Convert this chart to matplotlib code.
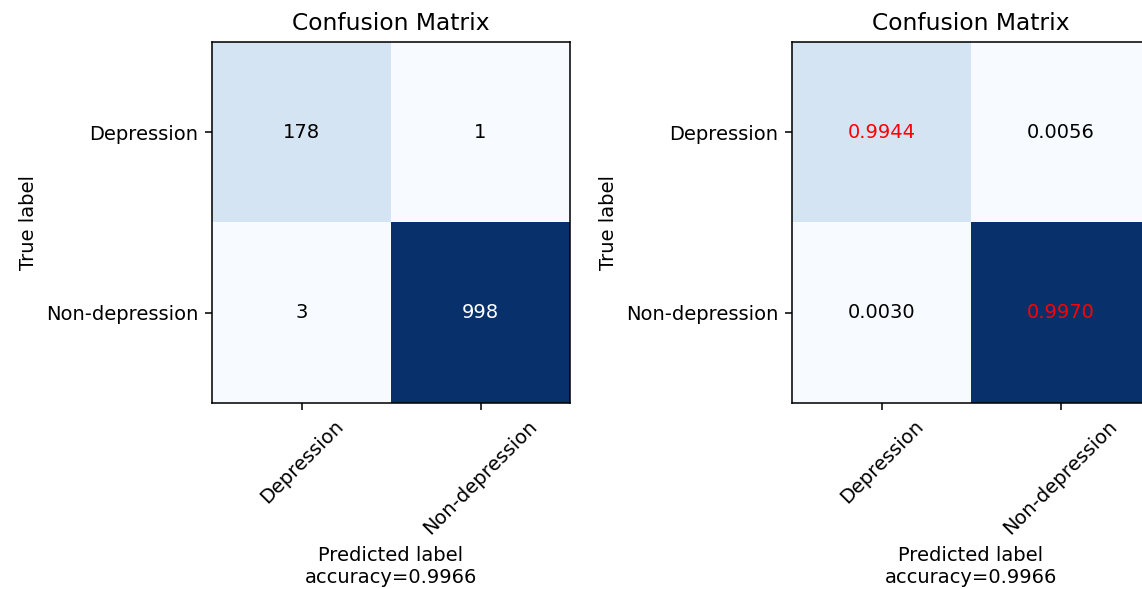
import numpy as np
import matplotlib
matplotlib.use("Agg")
import matplotlib.pyplot as plt

# Class names and raw confusion counts (rows: true, cols: predicted)
classes = ["Depression", "Non-depression"]
counts_row_depression = [178, 1]
counts_row_nondepression = [3, 998]

cm = np.array([counts_row_depression, counts_row_nondepression])
cm_norm = cm / cm.sum(axis=1, keepdims=True)
accuracy = np.trace(cm) / cm.sum()

DPI = 140
fig = plt.figure(figsize=(1142 / DPI, 589 / DPI), dpi=DPI)

W, H = 1142, 589
ax_left = fig.add_axes([212 / W, 1 - 403 / H, 358 / W, 361 / H])
ax_right = fig.add_axes([792 / W, 1 - 403 / H, 358 / W, 361 / H])


def draw_matrix(ax, labels, fmt, color_fn):
    ax.imshow(cm, interpolation="nearest", cmap=plt.cm.Blues, aspect="auto")
    ax.set_title("Confusion Matrix")
    ticks = np.arange(len(classes))
    ax.set_xticks(ticks)
    ax.set_xticklabels(classes, rotation=45)
    ax.set_yticks(ticks)
    ax.set_yticklabels(classes)
    for i in range(cm.shape[0]):
        for j in range(cm.shape[1]):
            ax.text(j, i, fmt(labels[i, j]), ha="center", va="center",
                    color=color_fn(i, j))
    ax.set_ylabel("True label")
    ax.set_xlabel("Predicted label\naccuracy={:0.4f}".format(accuracy))


thresh = cm.max() / 2
draw_matrix(ax_left, cm, lambda v: "{:,}".format(v),
            lambda i, j: "white" if cm[i, j] > thresh else "black")
draw_matrix(ax_right, cm_norm, lambda v: "{:0.4f}".format(v),
            lambda i, j: "red" if i == j else "black")

fig.savefig("out.png", dpi=DPI)
